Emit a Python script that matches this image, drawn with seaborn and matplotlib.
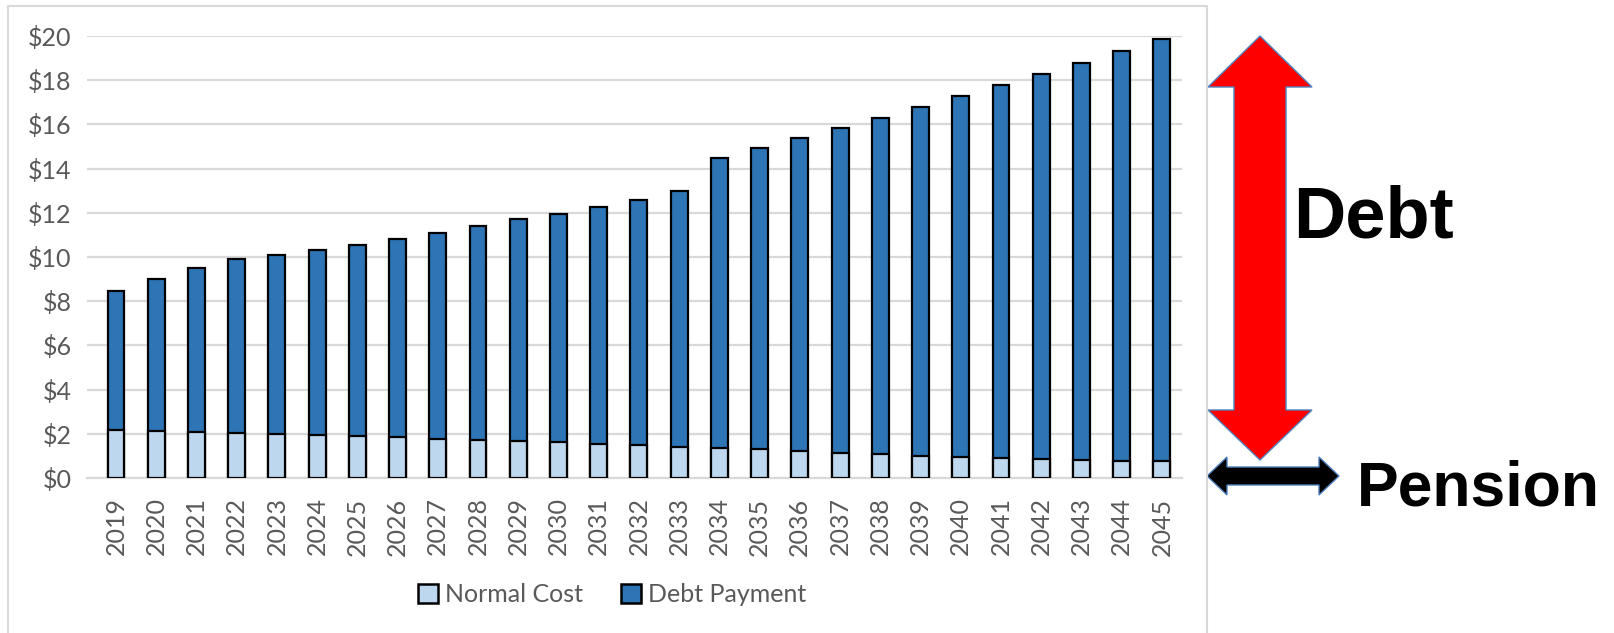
import numpy as np
import matplotlib
matplotlib.use('Agg')
import matplotlib.pyplot as plt
import seaborn as sns
from matplotlib.patches import Patch, Polygon
from matplotlib.lines import Line2D

# ---- data ($ billions) ----
years = [str(y) for y in range(2019, 2046)]
normal_cost = [2.15, 2.12, 2.08, 2.03, 2.00, 1.95, 1.90, 1.85, 1.78, 1.72,
               1.67, 1.63, 1.55, 1.48, 1.42, 1.36, 1.29, 1.22, 1.15, 1.08,
               1.00, 0.95, 0.90, 0.85, 0.82, 0.78, 0.78]
debt_payment = [6.30, 6.88, 7.42, 7.87, 8.10, 8.35, 8.65, 8.95, 9.32, 9.68,
                10.03, 10.32, 10.70, 11.12, 11.58, 13.14, 13.66, 14.18, 14.70, 15.22,
                15.80, 16.35, 16.90, 17.45, 17.98, 18.52, 19.07]
y_ticks = [0, 2, 4, 6, 8, 10, 12, 14, 16, 18, 20]
y_labels = ['$' + str(v) for v in y_ticks]
series_names = ['Normal Cost', 'Debt Payment']

light_blue = '#BDD7EE'
dark_blue = '#2E75B6'
grey_txt = '#595959'
grid_col = '#D9D9D9'

total = np.array(normal_cost) + np.array(debt_payment)

sns.set_style('white')
plt.rcParams['font.family'] = ['Lato', 'DejaVu Sans']

W, H = 1615, 633
fig = plt.figure(figsize=(W / 100, H / 100), dpi=100)
ax = fig.add_axes([87 / W, 1 - 478 / H, 1095 / W, 442 / H])

# stacked bars: full height in dark blue, normal cost drawn over the bottom
sns.barplot(x=years, y=total, color=dark_blue, saturation=1, width=0.42,
            edgecolor='black', linewidth=1.6, ax=ax, zorder=3)
sns.barplot(x=years, y=normal_cost, color=light_blue, saturation=1, width=0.42,
            edgecolor='black', linewidth=1.6, ax=ax, zorder=4)

ax.set_ylim(0, 20)
ax.set_xlim(-0.72, 26.5)
ax.set_yticks(y_ticks)
ax.set_yticklabels(y_labels)
ax.yaxis.grid(True, color=grid_col, linewidth=1.6, zorder=0)
ax.set_axisbelow(True)
for s in ['top', 'right', 'left']:
    ax.spines[s].set_visible(False)
ax.spines['bottom'].set_color(grid_col)
ax.spines['bottom'].set_linewidth(1.6)
ax.tick_params(axis='y', length=0, pad=11, labelsize=18, labelcolor=grey_txt)
ax.tick_params(axis='x', length=0, pad=14, labelsize=18, labelcolor=grey_txt,
               labelrotation=90)
ax.set_xlabel('')
ax.set_ylabel('')

handles = [Patch(facecolor=light_blue, edgecolor='black', linewidth=1.8),
           Patch(facecolor=dark_blue, edgecolor='black', linewidth=1.8)]
leg = fig.legend(handles, series_names, loc='center', bbox_to_anchor=(612 / W, 1 - 595 / H),
                 ncol=2, frameon=False, fontsize=18, handlelength=0.8, handleheight=0.8,
                 handletextpad=0.3, columnspacing=1.5)
for t in leg.get_texts():
    t.set_color(grey_txt)


def px(pts):
    return [(x / W, 1 - y / H) for x, y in pts]


# chart frame (left, top, right edges)
fig.add_artist(Line2D([8 / W, 8 / W, 1207 / W, 1207 / W],
                      [0, 1 - 6 / H, 1 - 6 / H, 0], color=grid_col, linewidth=1.5))

# red double arrow
red_arrow = [(1260, 36), (1312, 87), (1286, 87), (1286, 410), (1312, 410),
             (1260, 460), (1208, 410), (1234, 410), (1234, 87), (1208, 87)]
fig.add_artist(Polygon(px(red_arrow), closed=True, transform=fig.transFigure,
                       facecolor='#FF0000', edgecolor='#4F81BD', linewidth=1))

# black double arrow
black_arrow = [(1207, 476), (1227, 457), (1227, 467), (1319, 467), (1319, 457),
               (1339, 476), (1319, 495), (1319, 485), (1227, 485), (1227, 495)]
fig.add_artist(Polygon(px(black_arrow), closed=True, transform=fig.transFigure,
                       facecolor='black', edgecolor='#4F81BD', linewidth=1))

fig.text(1293 / W, 1 - 238 / H, 'Debt', fontsize=52, fontweight='bold', color='black',
         family=['Liberation Sans', 'DejaVu Sans'], va='baseline', ha='left')
fig.text(1357 / W, 1 - 505 / H, 'Pension', fontsize=45, fontweight='bold', color='black',
         family=['Liberation Sans', 'DejaVu Sans'], va='baseline', ha='left')

fig.savefig('out.png', dpi=100)
